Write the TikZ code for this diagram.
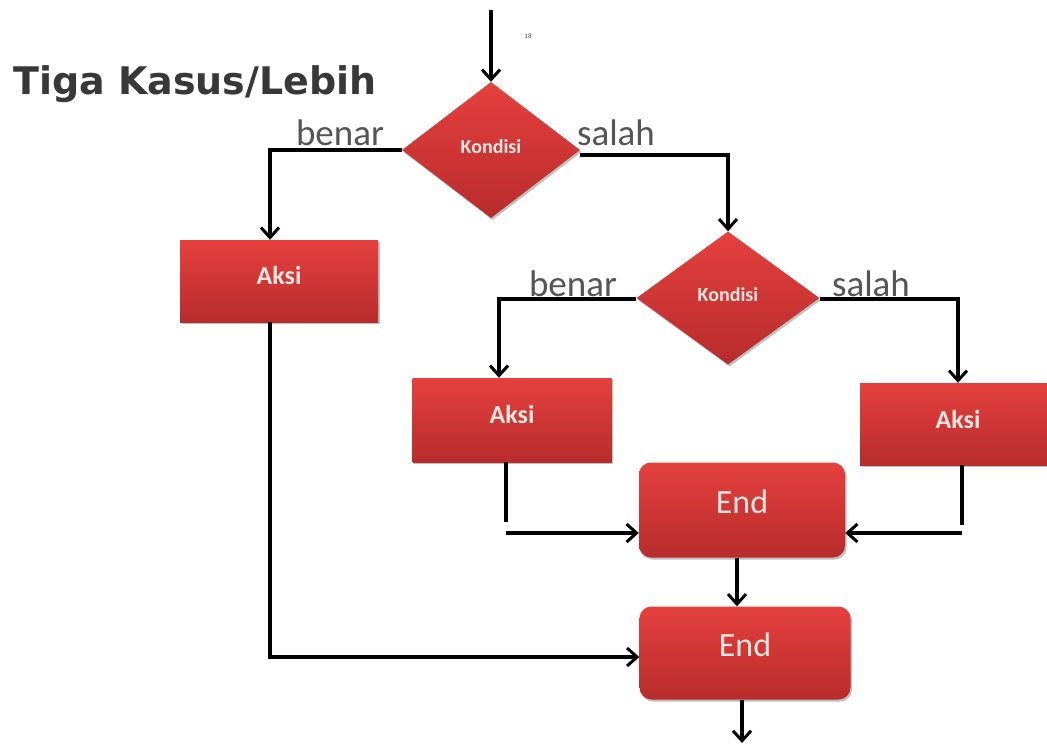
\documentclass[tikz,border=0pt]{standalone}
\usepackage{fontspec}
\setmainfont{Carlito}
\newfontfamily\titlefont{DejaVu Sans}
\usetikzlibrary{shapes.geometric,arrows.meta,shadows}
\definecolor{redtop}{HTML}{E5403E}
\definecolor{redbot}{HTML}{B82C2C}
\definecolor{boxtxt}{HTML}{FCE6DE}
\definecolor{lbl}{HTML}{555555}
\definecolor{ttl}{HTML}{383838}
\tikzset{
  redfill/.style={top color=redtop, bottom color=redbot, draw=none,
    drop shadow={shadow xshift=1.5pt, shadow yshift=-2pt, opacity=0.25, fill=black}},
  cond/.style={redfill, diamond, inner sep=0pt, text=boxtxt, font=\fontsize{20}{20}\selectfont\bfseries},
  aksi/.style={redfill, rectangle, inner sep=0pt, text=boxtxt, font=\fontsize{26}{26}\selectfont\bfseries},
  endbox/.style={redfill, rectangle, rounded corners=12pt, inner sep=0pt, text=boxtxt, font=\fontsize{34}{34}\selectfont},
  conn/.style={draw=black, line width=3.2pt, -{Straight Barb[length=10pt,width=18pt,line width=3pt]}},
  plain/.style={draw=black, line width=3.2pt},
  yn/.style={text=lbl, font=\fontsize{37}{37}\selectfont, inner sep=0pt}
}
\begin{document}
\begin{tikzpicture}[x=1pt,y=-1pt]
\useasboundingbox (0,0) rectangle (1047,744);
\fill[white] (0,0) rectangle (1047,744);
% title
\node[anchor=west, text=ttl, font=\titlefont\bfseries\fontsize{38}{38}\selectfont, inner sep=0pt] (title) at (13,84) {Tiga Kasus/Lebih};
\node[text=lbl, font=\fontsize{7}{7}\selectfont, inner sep=0pt] (num) at (528,36) {18};
% shapes
\node[cond, minimum width=178pt, minimum height=136pt] (d1) at (491,150) {\raisebox{7pt}{Kondisi}};
\node[aksi, minimum width=198pt, minimum height=82pt] (a1) at (279,281) {\raisebox{11pt}{Aksi}};
\node[cond, minimum width=183pt, minimum height=133pt] (d2) at (728,298) {\raisebox{8pt}{Kondisi}};
\node[aksi, minimum width=199pt, minimum height=84pt] (a2) at (512,420) {\raisebox{12pt}{Aksi}};
\node[aksi, minimum width=196pt, minimum height=82pt] (a3) at (958,424) {\raisebox{10pt}{Aksi}};
\node[endbox, minimum width=206pt, minimum height=95pt] (e1) at (742,510) {\raisebox{17pt}{End}};
\node[endbox, minimum width=211pt, minimum height=93pt] (e2) at (745,653) {\raisebox{17pt}{End}};
% labels
\node[yn] (b1) at (340,133) {benar};
\node[yn] (s1) at (616,133) {salah};
\node[yn] (b2) at (573,284) {benar};
\node[yn] (s2) at (871,284) {salah};
% connectors
\coordinate (start) at (491,10);
\coordinate (exit) at (742,743);
\draw[conn] (start) -- (d1.north);
\draw[conn] (d1.west) -| ([xshift=-9pt]a1.north);
\draw[conn] ([yshift=-5pt]d1.east) -| (d2.north);
\draw[conn] ([yshift=-1pt]d2.west) -| ([xshift=-13pt]a2.north);
\draw[conn] ([yshift=-1pt]d2.east) -| (a3.north);
\draw[plain] ([xshift=-6pt]a2.south) -- ++(0,60);
\draw[conn] ([xshift=-6pt]a2.south |- 0,533) -- ([yshift=-23pt]e1.west);
\draw[plain] ([xshift=4pt]a3.south) -- ++(0,60);
\draw[conn] ([xshift=4pt]a3.south |- 0,533) -- ([yshift=-23pt]e1.east);
\draw[conn] ([xshift=-5pt]e1.south) -- ([xshift=-5pt]e1.south |- e2.north);
\draw[conn] ([xshift=-9pt]a1.south) |- ([yshift=-4pt]e2.west);
\draw[conn] (e2.south -| exit) -- (exit);
\end{tikzpicture}
\end{document}
